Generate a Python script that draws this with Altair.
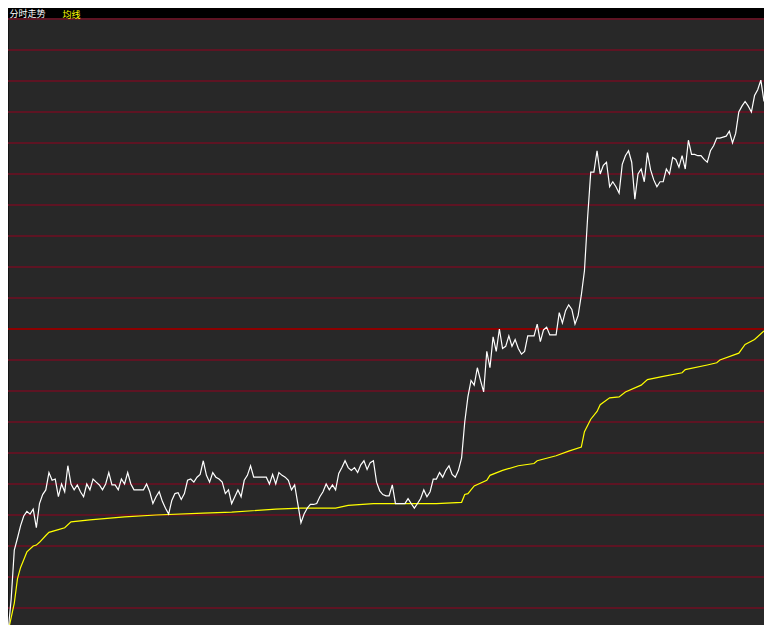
import altair as alt
import pandas as pd

# Intraday % change vs previous close, one value per minute (0..240)
price_pct = [
    -9.78, -8.72, -7.13, -6.75, -6.34, -6.03, -5.88, -5.97, -5.81, -6.41,
    -5.63, -5.34, -5.19, -4.63, -4.88, -4.84, -5.41, -5.00, -5.25, -4.41,
    -5.00, -5.19, -5.03, -5.25, -5.41, -5.00, -5.19, -4.84, -4.94, -5.03,
    -5.19, -5.00, -4.63, -5.03, -5.03, -5.19, -4.84, -5.00, -4.63, -5.00,
    -5.19, -5.19, -5.19, -5.19, -5.00, -5.25, -5.63, -5.41, -5.25, -5.56,
    -5.78, -5.97, -5.53, -5.31, -5.28, -5.50, -5.31, -4.88, -4.84, -4.94,
    -4.78, -4.69, -4.25, -4.72, -4.94, -4.63, -4.78, -4.84, -4.94, -5.31,
    -5.19, -5.63, -5.41, -5.19, -5.41, -4.88, -4.72, -4.41, -4.78, -4.78,
    -4.78, -4.78, -4.78, -5.00, -4.69, -5.00, -4.63, -4.72, -4.78, -4.88,
    -5.19, -5.03, -5.63, -6.25, -5.97, -5.78, -5.66, -5.66, -5.63, -5.41,
    -5.25, -5.00, -5.19, -5.03, -5.19, -4.66, -4.47, -4.25, -4.47, -4.56,
    -4.47, -4.63, -4.38, -4.25, -4.53, -4.31, -4.25, -4.94, -5.22, -5.34,
    -5.38, -5.38, -5.03, -5.63, -5.63, -5.63, -5.63, -5.47, -5.63, -5.78,
    -5.63, -5.47, -5.19, -5.41, -5.25, -4.84, -4.84, -4.63, -4.78, -4.56,
    -4.41, -4.69, -4.78, -4.56, -4.16, -3.00, -2.19, -1.66, -1.81, -1.25,
    -1.66, -2.03, -0.72, -1.25, -0.25, -0.72, 0.00, -0.63, -0.56, -0.22,
    -0.56, -0.34, -0.63, -0.81, -0.72, -0.22, -0.22, -0.22, 0.16, -0.41,
    -0.03, 0.06, -0.19, -0.19, -0.19, 0.53, 0.19, 0.59, 0.78, 0.63,
    0.16, 0.44, 1.09, 1.88, 3.59, 5.06, 5.06, 5.75, 5.00, 5.28,
    5.38, 4.59, 4.75, 4.59, 4.38, 5.31, 5.59, 5.75, 5.38, 4.19,
    5.00, 5.16, 4.75, 5.69, 5.13, 4.81, 4.59, 4.75, 4.75, 5.16,
    5.00, 5.53, 5.47, 5.22, 5.59, 5.16, 6.09, 5.63, 5.63, 5.59,
    5.59, 5.47, 5.38, 5.75, 5.91, 6.16, 6.16, 6.19, 6.22, 6.38,
    6.00, 6.31, 7.00, 7.19, 7.34, 7.19, 7.00, 7.53, 7.72, 8.03,
    7.34,
]

# Average-price line (均线), % change vs previous close
avg_minute = [0, 2, 3, 4, 5, 6, 8, 9, 10, 12,
              13, 16, 18, 20, 26, 37, 47, 62, 71, 85,
              93, 104, 108, 116, 136, 144, 145, 146, 148, 152,
              153, 157, 162, 167, 168, 174, 178, 182, 183, 185,
              187, 188, 191, 194, 196, 201, 203, 208, 214, 215,
              222, 225, 226, 232, 234, 237, 240]
avg_pct = [-9.78, -8.84, -8.06, -7.69, -7.44, -7.19, -7.00, -6.97, -6.88, -6.66,
           -6.56, -6.47, -6.41, -6.22, -6.16, -6.06, -6.00, -5.94, -5.91, -5.81,
           -5.78, -5.78, -5.69, -5.63, -5.63, -5.59, -5.34, -5.31, -5.06, -4.88,
           -4.72, -4.56, -4.41, -4.34, -4.25, -4.09, -3.94, -3.81, -3.31, -2.91,
           -2.66, -2.44, -2.22, -2.19, -2.03, -1.81, -1.63, -1.53, -1.41, -1.31,
           -1.16, -1.09, -1.00, -0.78, -0.50, -0.34, -0.06]

grid_levels = list(range(-9, 11))
base_level = [0]
title_main = "分时走势"
title_avg = "均线"

FONT = "Noto Sans CJK SC"
FS = 9
W, H, TOP = 756, 606, 11

price_df = pd.DataFrame({"minute": list(range(len(price_pct))), "pct": price_pct})
avg_df = pd.DataFrame({"minute": avg_minute, "pct": avg_pct})
base_df = pd.DataFrame({"level": base_level})

xs = alt.Scale(domain=[0, 240], nice=False, zero=False)
ys = alt.Scale(domain=[-9.548, 10.0], nice=False, zero=False)

x_axis = alt.Axis(orient="top", labels=False, ticks=False, domain=False, grid=False,
                  title=title_avg, titleColor="#ffff00", titleFont=FONT, titleFontSize=FS,
                  titleFontWeight="normal", titleX=54, titleY=0, titleAlign="left",
                  titleBaseline="bottom", titleAnchor="start", titleAngle=0)
y_axis = alt.Axis(values=grid_levels, labels=False, ticks=False, domain=False,
                  title=title_main, titleColor="#ffffff", titleFont=FONT, titleFontSize=FS,
                  titleFontWeight="normal", titleX=1.5, titleY=0, titleAlign="left",
                  titleBaseline="bottom", titleAnchor="start", titleAngle=0,
                  grid=True, gridColor="#5e1423", gridWidth=2, gridOpacity=1, translate=0)

base = alt.Chart(base_df).mark_rule(color="#8c0000", strokeWidth=2).encode(
    y=alt.Y("level:Q", scale=ys, axis=y_axis)
)

avg_line = alt.Chart(avg_df).mark_line(color="#ffff00", strokeWidth=1.2, clip=True).encode(
    x=alt.X("minute:Q", scale=xs, axis=x_axis),
    y=alt.Y("pct:Q", scale=ys, axis=y_axis),
)

price_line = alt.Chart(price_df).mark_line(color="#ffffff", strokeWidth=1.2, clip=True).encode(
    x=alt.X("minute:Q", scale=xs, axis=x_axis),
    y=alt.Y("pct:Q", scale=ys, axis=y_axis),
)

chart = alt.layer(base, avg_line, price_line).properties(
    width=W,
    height=H,
    padding={"left": 0, "top": TOP, "right": 0, "bottom": 0},
    autosize=alt.AutoSizeParams(type="none"),
).configure(background="#000000").configure_view(fill="#282828", stroke="transparent")

chart.save("out.html", embed_options={"renderer": "svg", "actions": False})
